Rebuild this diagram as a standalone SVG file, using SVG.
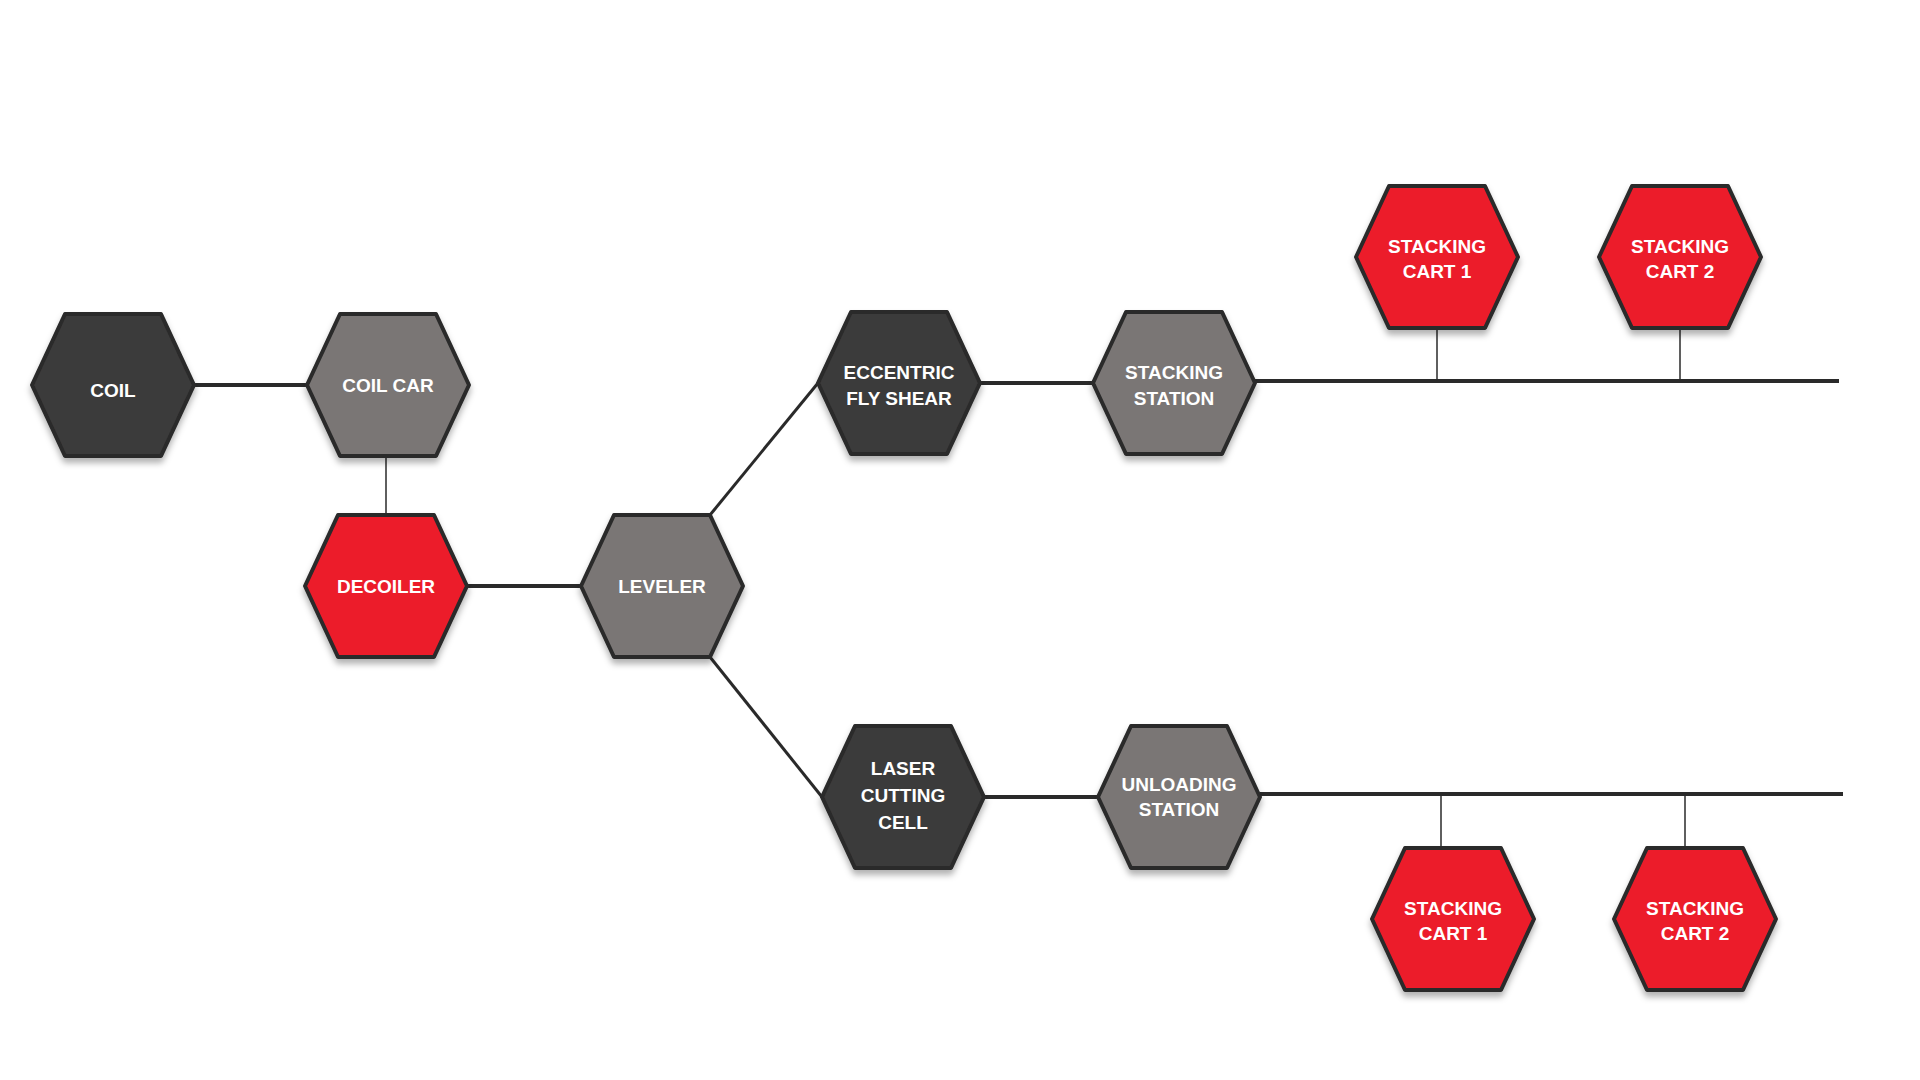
<svg xmlns="http://www.w3.org/2000/svg" width="1920" height="1080" viewBox="0 0 1920 1080">
<defs>
<polygon id="hx" points="-81,0 -48,-71 48,-71 81,0 48,71 -48,71"/>
<filter id="sh" x="-20%" y="-20%" width="140%" height="150%"><feDropShadow dx="0" dy="5" stdDeviation="3" flood-color="#000" flood-opacity="0.3"/></filter>
</defs>
<style>
.h{stroke:#2a2a2a;stroke-width:4;stroke-linejoin:round;filter:url(#sh)}
.d{fill:#3b3a3a}.g{fill:#7a7675}.r{fill:#ec1c2a}
text{font-family:"Liberation Sans",Arial,sans-serif;font-weight:bold;fill:#fff;text-anchor:middle;font-size:19px}
.c{stroke:#2a2a2a;fill:none}
</style>
<rect width="1920" height="1080" fill="#fff"/>
<g id="connectors">
<line class="c" stroke-width="4" x1="194" y1="385" x2="307" y2="385"/>
<line class="c" stroke-width="1.5" x1="386" y1="458" x2="386" y2="515"/>
<line class="c" stroke-width="4" x1="467" y1="586" x2="581" y2="586"/>
<line class="c" stroke-width="3" x1="710" y1="515" x2="818" y2="383"/>
<line class="c" stroke-width="3" x1="710" y1="657" x2="822" y2="797"/>
<line class="c" stroke-width="4" x1="980" y1="383" x2="1093" y2="383"/>
<line class="c" stroke-width="4" x1="1255" y1="381" x2="1839" y2="381"/>
<line class="c" stroke-width="1.5" x1="1437" y1="330" x2="1437" y2="381"/>
<line class="c" stroke-width="1.5" x1="1680" y1="330" x2="1680" y2="381"/>
<line class="c" stroke-width="4" x1="984" y1="797" x2="1098" y2="797"/>
<line class="c" stroke-width="4" x1="1260" y1="794" x2="1843" y2="794"/>
<line class="c" stroke-width="1.5" x1="1441" y1="794" x2="1441" y2="848"/>
<line class="c" stroke-width="1.5" x1="1685" y1="794" x2="1685" y2="848"/>
</g>
<g id="coil" transform="translate(113,385)"><use href="#hx" class="h d"/><text y="12" font-size="34">COIL</text></g>
<g id="coilcar" transform="translate(388,385)"><use href="#hx" class="h g"/><text y="7">COIL CAR</text></g>
<g id="decoiler" transform="translate(386,586)"><use href="#hx" class="h r"/><text y="7">DECOILER</text></g>
<g id="leveler" transform="translate(662,586)"><use href="#hx" class="h g"/><text y="7">LEVELER</text></g>
<g id="eccentric" transform="translate(899,383)"><use href="#hx" class="h d"/><text y="-4">ECCENTRIC</text><text y="22">FLY SHEAR</text></g>
<g id="stackingstation" transform="translate(1174,383)"><use href="#hx" class="h g"/><text y="-4">STACKING</text><text y="22">STATION</text></g>
<g id="cart1top" transform="translate(1437,257)"><use href="#hx" class="h r"/><text y="-4">STACKING</text><text y="21">CART 1</text></g>
<g id="cart2top" transform="translate(1680,257)"><use href="#hx" class="h r"/><text y="-4">STACKING</text><text y="21">CART 2</text></g>
<g id="laser" transform="translate(903,797)"><use href="#hx" class="h d"/><text y="-22">LASER</text><text y="5">CUTTING</text><text y="32">CELL</text></g>
<g id="unloading" transform="translate(1179,797)"><use href="#hx" class="h g"/><text y="-6">UNLOADING</text><text y="19">STATION</text></g>
<g id="cart1bot" transform="translate(1453,919)"><use href="#hx" class="h r"/><text y="-4">STACKING</text><text y="21">CART 1</text></g>
<g id="cart2bot" transform="translate(1695,919)"><use href="#hx" class="h r"/><text y="-4">STACKING</text><text y="21">CART 2</text></g>
</svg>
